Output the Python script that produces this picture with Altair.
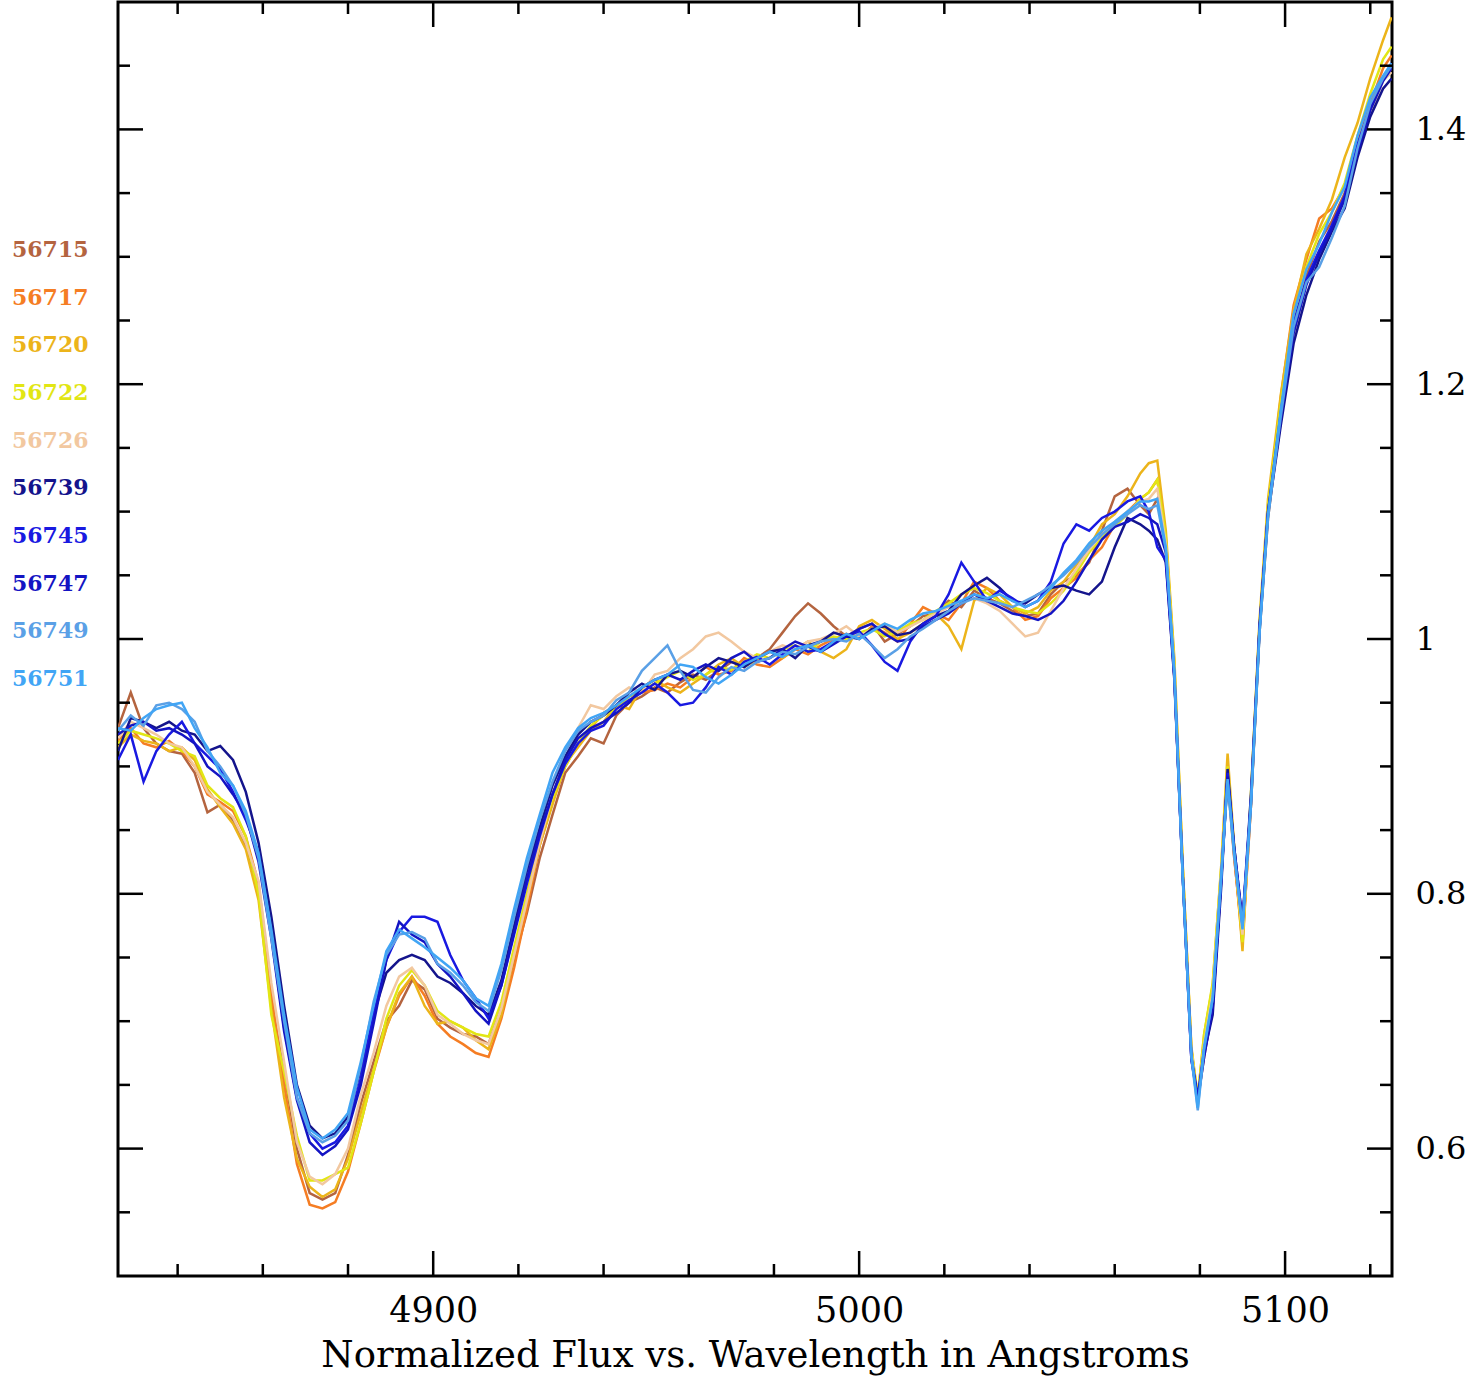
import altair as alt
import pandas as pd

# ---------------- data ----------------
WAVELENGTH = [
    4826, 4829, 4832, 4835, 4838, 4841, 4844, 4847, 4850, 4853,
    4856, 4859, 4862, 4865, 4868, 4871, 4874, 4877, 4880, 4883,
    4886, 4889, 4892, 4895, 4898, 4901, 4904, 4907, 4910, 4913,
    4916, 4919, 4922, 4925, 4928, 4931, 4934, 4937, 4940, 4943,
    4946, 4949, 4952, 4955, 4958, 4961, 4964, 4967, 4970, 4973,
    4976, 4979, 4982, 4985, 4988, 4991, 4994, 4997, 5000, 5003,
    5006, 5009, 5012, 5015, 5018, 5021, 5024, 5027, 5030, 5033,
    5036, 5039, 5042, 5045, 5048, 5051, 5054, 5057, 5060, 5063,
    5066,
    5068, 5070, 5072, 5074, 5076, 5078, 5079.5, 5081, 5083, 5085,
    5086.5, 5088, 5090, 5092, 5094, 5096,
    5099, 5102, 5105, 5108, 5111, 5114, 5117, 5120, 5123, 5125,
]

LABELS = ["56715", "56717", "56720", "56722", "56726",
          "56739", "56745", "56747", "56749", "56751"]
COLORS = ["#b4643f", "#f57d23", "#ecb41a", "#e2e614", "#f2c8a0",
          "#14148c", "#1919e1", "#1414c3", "#5aa0e6", "#41a5f5"]

FLUX_56715 = [
    0.930, 0.958, 0.930, 0.918, 0.912, 0.910, 0.895, 0.864, 0.870, 0.858,
    0.838, 0.800, 0.715, 0.660, 0.600, 0.565, 0.560, 0.565, 0.595, 0.635,
    0.668, 0.700, 0.712, 0.732, 0.725, 0.702, 0.695, 0.690, 0.688, 0.682,
    0.712, 0.748, 0.785, 0.828, 0.862, 0.895, 0.908, 0.922, 0.918, 0.940,
    0.950, 0.955, 0.962, 0.958, 0.966, 0.972, 0.968, 0.975, 0.982, 0.978,
    0.985, 0.992, 1.005, 1.018, 1.028, 1.020, 1.010, 1.002, 1.008, 1.012,
    0.998, 1.004, 1.010, 1.018, 1.020, 1.030, 1.025, 1.038, 1.032, 1.028,
    1.022, 1.018, 1.020, 1.035, 1.045, 1.050, 1.060, 1.085, 1.112, 1.118,
    1.105,
    1.098, 1.110, 1.070, 0.970, 0.815, 0.675, 0.638, 0.672, 0.712, 0.815,
    0.890, 0.830, 0.765, 0.870, 1.005, 1.095,
    1.175, 1.245, 1.285, 1.312, 1.328, 1.350, 1.385, 1.418, 1.440, 1.448,
]
FLUX_56717 = [
    0.920, 0.930, 0.918, 0.915, 0.920, 0.912, 0.900, 0.878, 0.872, 0.865,
    0.845, 0.808, 0.722, 0.650, 0.588, 0.556, 0.553, 0.558, 0.582, 0.620,
    0.660, 0.695, 0.720, 0.735, 0.720, 0.698, 0.688, 0.682, 0.675, 0.672,
    0.702, 0.742, 0.788, 0.838, 0.872, 0.900, 0.918, 0.930, 0.942, 0.948,
    0.955, 0.958, 0.960, 0.965, 0.962, 0.970, 0.978, 0.972, 0.975, 0.985,
    0.980, 0.978, 0.985, 0.992, 0.988, 0.995, 1.000, 1.004, 1.000, 1.010,
    1.005, 0.998, 1.012, 1.025, 1.020, 1.015, 1.028, 1.045, 1.040, 1.030,
    1.025, 1.015, 1.018, 1.032, 1.040, 1.048, 1.062, 1.072, 1.090, 1.100,
    1.110,
    1.115, 1.125, 1.078, 0.978, 0.818, 0.678, 0.636, 0.685, 0.722, 0.812,
    0.895, 0.832, 0.760, 0.870, 1.008, 1.102,
    1.190, 1.262, 1.298, 1.330, 1.338, 1.355, 1.392, 1.420, 1.448, 1.458,
]
FLUX_56720 = [
    0.915, 0.925, 0.920, 0.918, 0.912, 0.915, 0.905, 0.882, 0.868, 0.855,
    0.835, 0.795, 0.710, 0.640, 0.592, 0.570, 0.562, 0.568, 0.592, 0.628,
    0.662, 0.695, 0.722, 0.735, 0.712, 0.698, 0.700, 0.695, 0.685, 0.678,
    0.705, 0.752, 0.795, 0.838, 0.870, 0.902, 0.915, 0.928, 0.935, 0.948,
    0.945, 0.962, 0.968, 0.962, 0.958, 0.965, 0.972, 0.980, 0.985, 0.978,
    0.984, 0.990, 0.985, 0.992, 0.998, 0.990, 0.985, 0.992, 1.010, 1.015,
    1.008, 1.000, 1.005, 1.012, 1.020, 1.010, 0.992, 1.030, 1.040, 1.035,
    1.025, 1.020, 1.025, 1.038, 1.045, 1.058, 1.072, 1.090, 1.098, 1.112,
    1.130,
    1.138, 1.140, 1.085, 0.985, 0.820, 0.680, 0.640, 0.690, 0.728, 0.822,
    0.910, 0.840, 0.755, 0.878, 1.015, 1.110,
    1.192, 1.258, 1.302, 1.322, 1.345, 1.378, 1.405, 1.440, 1.470, 1.488,
]
FLUX_56722 = [
    0.918, 0.928, 0.925, 0.922, 0.918, 0.912, 0.908, 0.885, 0.875, 0.868,
    0.845, 0.800, 0.705, 0.660, 0.610, 0.575, 0.575, 0.580, 0.585, 0.620,
    0.660, 0.702, 0.728, 0.740, 0.728, 0.708, 0.700, 0.695, 0.690, 0.688,
    0.715, 0.758, 0.800, 0.842, 0.875, 0.900, 0.918, 0.932, 0.940, 0.945,
    0.955, 0.960, 0.965, 0.970, 0.975, 0.968, 0.972, 0.978, 0.976, 0.982,
    0.988, 0.985, 0.992, 0.995, 0.990, 0.998, 1.002, 1.000, 1.005, 1.008,
    1.002, 1.006, 1.012, 1.015, 1.022, 1.028, 1.035, 1.040, 1.036, 1.030,
    1.025, 1.022, 1.020, 1.028, 1.038, 1.052, 1.068, 1.080, 1.088, 1.098,
    1.110,
    1.115, 1.125, 1.080, 0.980, 0.820, 0.678, 0.640, 0.690, 0.730, 0.820,
    0.900, 0.838, 0.762, 0.880, 1.012, 1.105,
    1.185, 1.252, 1.292, 1.318, 1.335, 1.358, 1.395, 1.428, 1.455, 1.465,
]
FLUX_56726 = [
    0.922, 0.935, 0.930, 0.925, 0.918, 0.915, 0.900, 0.880, 0.870, 0.860,
    0.840, 0.810, 0.730, 0.668, 0.605, 0.578, 0.572, 0.580, 0.600, 0.642,
    0.675, 0.712, 0.735, 0.742, 0.728, 0.705, 0.698, 0.690, 0.685, 0.682,
    0.710, 0.752, 0.795, 0.840, 0.878, 0.905, 0.930, 0.948, 0.945, 0.955,
    0.962, 0.958, 0.972, 0.975, 0.985, 0.992, 1.002, 1.005, 0.998, 0.990,
    0.985, 0.990, 0.995, 0.992, 0.998, 1.000, 1.004, 1.010, 1.002, 1.008,
    1.012, 1.005, 1.010, 1.015, 1.020, 1.025, 1.030, 1.032, 1.028, 1.022,
    1.012, 1.002, 1.005, 1.022, 1.040, 1.055, 1.070, 1.082, 1.092, 1.100,
    1.108,
    1.110, 1.118, 1.075, 0.975, 0.815, 0.676, 0.636, 0.682, 0.722, 0.815,
    0.892, 0.835, 0.768, 0.872, 1.008, 1.098,
    1.172, 1.238, 1.280, 1.300, 1.322, 1.345, 1.380, 1.412, 1.438, 1.445,
]
FLUX_56739 = [
    0.912, 0.938, 0.935, 0.930, 0.935, 0.928, 0.925, 0.912, 0.916, 0.905,
    0.880, 0.840, 0.782, 0.712, 0.650, 0.618, 0.608, 0.612, 0.625, 0.662,
    0.705, 0.738, 0.748, 0.752, 0.748, 0.735, 0.730, 0.722, 0.712, 0.705,
    0.732, 0.775, 0.818, 0.852, 0.885, 0.908, 0.925, 0.935, 0.940, 0.948,
    0.958, 0.965, 0.960, 0.972, 0.975, 0.970, 0.978, 0.985, 0.982, 0.978,
    0.985, 0.990, 0.992, 0.985, 0.995, 0.998, 1.005, 1.002, 1.000, 1.008,
    1.010, 1.003, 1.005, 1.012, 1.018, 1.022, 1.035, 1.042, 1.048, 1.040,
    1.030, 1.028, 1.035, 1.040, 1.042, 1.038, 1.035, 1.045, 1.072, 1.095,
    1.090,
    1.085, 1.078, 1.060, 0.968, 0.812, 0.672, 0.640, 0.675, 0.705, 0.805,
    0.898, 0.838, 0.778, 0.872, 1.008, 1.098,
    1.168, 1.232, 1.270, 1.298, 1.320, 1.338, 1.378, 1.410, 1.432, 1.440,
]
FLUX_56745 = [
    0.905, 0.925, 0.888, 0.912, 0.925, 0.935, 0.918, 0.908, 0.898, 0.880,
    0.858, 0.832, 0.768, 0.695, 0.640, 0.612, 0.600, 0.605, 0.618, 0.655,
    0.705, 0.748, 0.770, 0.782, 0.782, 0.778, 0.752, 0.732, 0.718, 0.702,
    0.728, 0.768, 0.808, 0.845, 0.878, 0.902, 0.918, 0.928, 0.932, 0.945,
    0.952, 0.958, 0.965, 0.958, 0.948, 0.950, 0.962, 0.978, 0.972, 0.982,
    0.986, 0.980, 0.988, 0.995, 0.990, 0.992, 0.998, 1.002, 1.006, 0.995,
    0.982, 0.975, 0.998, 1.012, 1.018, 1.035, 1.060, 1.045, 1.030, 1.038,
    1.032, 1.025, 1.030, 1.045, 1.075, 1.090, 1.085, 1.095, 1.100, 1.108,
    1.112,
    1.100, 1.072, 1.062, 0.970, 0.812, 0.670, 0.640, 0.678, 0.712, 0.812,
    0.895, 0.835, 0.775, 0.875, 1.008, 1.100,
    1.178, 1.248, 1.282, 1.305, 1.325, 1.348, 1.388, 1.418, 1.440, 1.452,
]
FLUX_56747 = [
    0.925, 0.932, 0.935, 0.928, 0.930, 0.925, 0.918, 0.900, 0.892, 0.878,
    0.862, 0.825, 0.765, 0.692, 0.638, 0.605, 0.595, 0.602, 0.615, 0.650,
    0.698, 0.748, 0.778, 0.768, 0.762, 0.745, 0.735, 0.722, 0.708, 0.698,
    0.728, 0.770, 0.812, 0.848, 0.878, 0.905, 0.922, 0.930, 0.935, 0.942,
    0.950, 0.962, 0.968, 0.972, 0.968, 0.975, 0.980, 0.975, 0.985, 0.990,
    0.982, 0.985, 0.992, 0.998, 0.994, 0.990, 0.996, 1.002, 1.008, 1.012,
    1.004, 0.998, 1.000, 1.010, 1.015, 1.020, 1.028, 1.035, 1.030, 1.025,
    1.020, 1.018, 1.015, 1.020, 1.030, 1.045, 1.062, 1.078, 1.088, 1.092,
    1.098,
    1.095, 1.090, 1.068, 0.972, 0.812, 0.670, 0.638, 0.672, 0.710, 0.810,
    0.892, 0.838, 0.778, 0.878, 1.010, 1.100,
    1.172, 1.240, 1.278, 1.302, 1.322, 1.345, 1.382, 1.415, 1.438, 1.448,
]
FLUX_56749 = [
    0.928, 0.940, 0.932, 0.948, 0.950, 0.945, 0.935, 0.912, 0.900, 0.885,
    0.862, 0.828, 0.765, 0.700, 0.640, 0.612, 0.605, 0.610, 0.622, 0.665,
    0.715, 0.752, 0.768, 0.770, 0.765, 0.745, 0.738, 0.728, 0.715, 0.708,
    0.740, 0.782, 0.822, 0.858, 0.888, 0.912, 0.928, 0.935, 0.940, 0.952,
    0.958, 0.975, 0.985, 0.995, 0.975, 0.960, 0.958, 0.970, 0.978, 0.975,
    0.982, 0.985, 0.990, 0.988, 0.994, 0.998, 1.000, 0.998, 1.004, 0.995,
    0.985, 0.992, 1.002, 1.008, 1.015, 1.022, 1.028, 1.032, 1.030, 1.028,
    1.025, 1.030, 1.035, 1.042, 1.050, 1.060, 1.072, 1.082, 1.090, 1.098,
    1.105,
    1.102, 1.105, 1.070, 0.972, 0.810, 0.672, 0.630, 0.678, 0.718, 0.815,
    0.888, 0.832, 0.775, 0.872, 1.005, 1.095,
    1.175, 1.245, 1.280, 1.292, 1.315, 1.340, 1.385, 1.420, 1.440, 1.450,
]
FLUX_56751 = [
    0.930, 0.928, 0.938, 0.945, 0.948, 0.950, 0.930, 0.915, 0.895, 0.885,
    0.865, 0.832, 0.772, 0.705, 0.648, 0.615, 0.608, 0.615, 0.628, 0.668,
    0.712, 0.755, 0.772, 0.765, 0.758, 0.750, 0.742, 0.732, 0.718, 0.712,
    0.745, 0.788, 0.828, 0.862, 0.895, 0.915, 0.930, 0.938, 0.942, 0.948,
    0.955, 0.962, 0.968, 0.972, 0.980, 0.978, 0.970, 0.965, 0.972, 0.980,
    0.985, 0.990, 0.986, 0.992, 0.995, 0.990, 0.998, 1.004, 1.000, 1.006,
    1.012, 1.008, 1.015, 1.020, 1.022, 1.026, 1.030, 1.035, 1.032, 1.035,
    1.030, 1.025, 1.030, 1.040, 1.052, 1.062, 1.075, 1.085, 1.092, 1.100,
    1.108,
    1.108, 1.110, 1.072, 0.975, 0.812, 0.674, 0.632, 0.680, 0.718, 0.812,
    0.890, 0.835, 0.772, 0.870, 1.005, 1.098,
    1.180, 1.255, 1.290, 1.310, 1.335, 1.355, 1.395, 1.425, 1.442, 1.452,
]

SERIES = [FLUX_56715, FLUX_56717, FLUX_56720, FLUX_56722, FLUX_56726,
          FLUX_56739, FLUX_56745, FLUX_56747, FLUX_56749, FLUX_56751]

X_MAJOR = [4900, 5000, 5100]
X_MINOR = [4840, 4860, 4880, 4920, 4940, 4960, 4980, 5020, 5040, 5060, 5080, 5120]
Y_MAJOR = [0.6, 0.8, 1.0, 1.2, 1.4]
Y_MINOR = [0.55, 0.65, 0.7, 0.75, 0.85, 0.9, 0.95, 1.05, 1.1, 1.15, 1.25, 1.3, 1.35, 1.45]

X_TITLE = "Normalized Flux vs. Wavelength in Angstroms"

# ---------------- build tables ----------------
rows = []
for lab, vals in zip(LABELS, SERIES):
    for w, f in zip(WAVELENGTH, vals):
        rows.append({"wl": w, "flux": f, "mjd": lab})
df = pd.DataFrame(rows)

W, H = 1274, 1274
FONT = "DejaVu Serif"
MAJ, MIN = 25, 12

xs = alt.Scale(domain=[4826, 5125.1], nice=False, zero=False)
ys = alt.Scale(domain=[0.5, 1.5], nice=False, zero=False)
cs = alt.Scale(domain=LABELS, range=COLORS)

# one shared x-axis definition, used by every layer that has an x field
X_AXIS = alt.Axis(
    values=X_MAJOR, ticks=False, domain=False, grid=False, format="d",
    labelFont=FONT, labelFontSize=35, labelColor="black", labelPadding=17,
    title=X_TITLE, titleFont=FONT, titleFontSize=37, titleFontWeight="normal",
    titleColor="black", titlePadding=9)

lines = alt.Chart(df).mark_line(strokeWidth=2.5, clip=True).encode(
    x=alt.X("wl:Q", scale=xs, axis=X_AXIS),
    y=alt.Y("flux:Q", scale=ys, axis=alt.Axis(
        orient="right", values=Y_MAJOR, ticks=False, domain=False, grid=False,
        format="~g", labelFont=FONT, labelFontSize=32, labelColor="black",
        labelPadding=23, title=None)),
    color=alt.Color("mjd:N", scale=cs, legend=None),
    detail="mjd:N",
)


def xticks(values, length):
    d = pd.DataFrame({"v": values})
    bottom = alt.Chart(d).mark_rule(color="black", strokeWidth=2.5).encode(
        x=alt.X("v:Q", scale=xs, axis=X_AXIS),
        y=alt.value(H), y2=alt.value(H - length))
    top = alt.Chart(d).mark_rule(color="black", strokeWidth=2.5).encode(
        x=alt.X("v:Q", scale=xs, axis=X_AXIS),
        y=alt.value(0), y2=alt.value(length))
    return [bottom, top]


def yticks(values, length):
    d = pd.DataFrame({"v": values})
    left = alt.Chart(d).mark_rule(color="black", strokeWidth=2.5).encode(
        y=alt.Y("v:Q", scale=ys, axis=None),
        x=alt.value(0), x2=alt.value(length))
    right = alt.Chart(d).mark_rule(color="black", strokeWidth=2.5).encode(
        y=alt.Y("v:Q", scale=ys, axis=None),
        x=alt.value(W), x2=alt.value(W - length))
    return [left, right]


tick_layers = (xticks(X_MAJOR, MAJ) + xticks(X_MINOR, MIN)
               + yticks(Y_MAJOR, MAJ) + yticks(Y_MINOR, MIN))

legend_df = pd.DataFrame({"mjd": LABELS})
legend = alt.Chart(legend_df).mark_text(
    align="left", baseline="middle", font=FONT, fontSize=22, fontWeight="bold"
).encode(
    x=alt.value(-106),
    y=alt.Y("mjd:N", sort=LABELS, axis=None,
            scale=alt.Scale(type="point", range=[248, 677], padding=0)),
    text="mjd:N",
    color=alt.Color("mjd:N", scale=cs, legend=None),
)

chart = alt.layer(lines, *tick_layers, legend).resolve_scale(y="independent").properties(
    width=W, height=H,
    padding={"left": 118, "top": 2, "right": 77, "bottom": 106},
    autosize="none",
    background="white",
).configure_view(stroke="black", strokeWidth=3)

chart.save("out.html", embed_options={"renderer": "svg", "actions": False})
